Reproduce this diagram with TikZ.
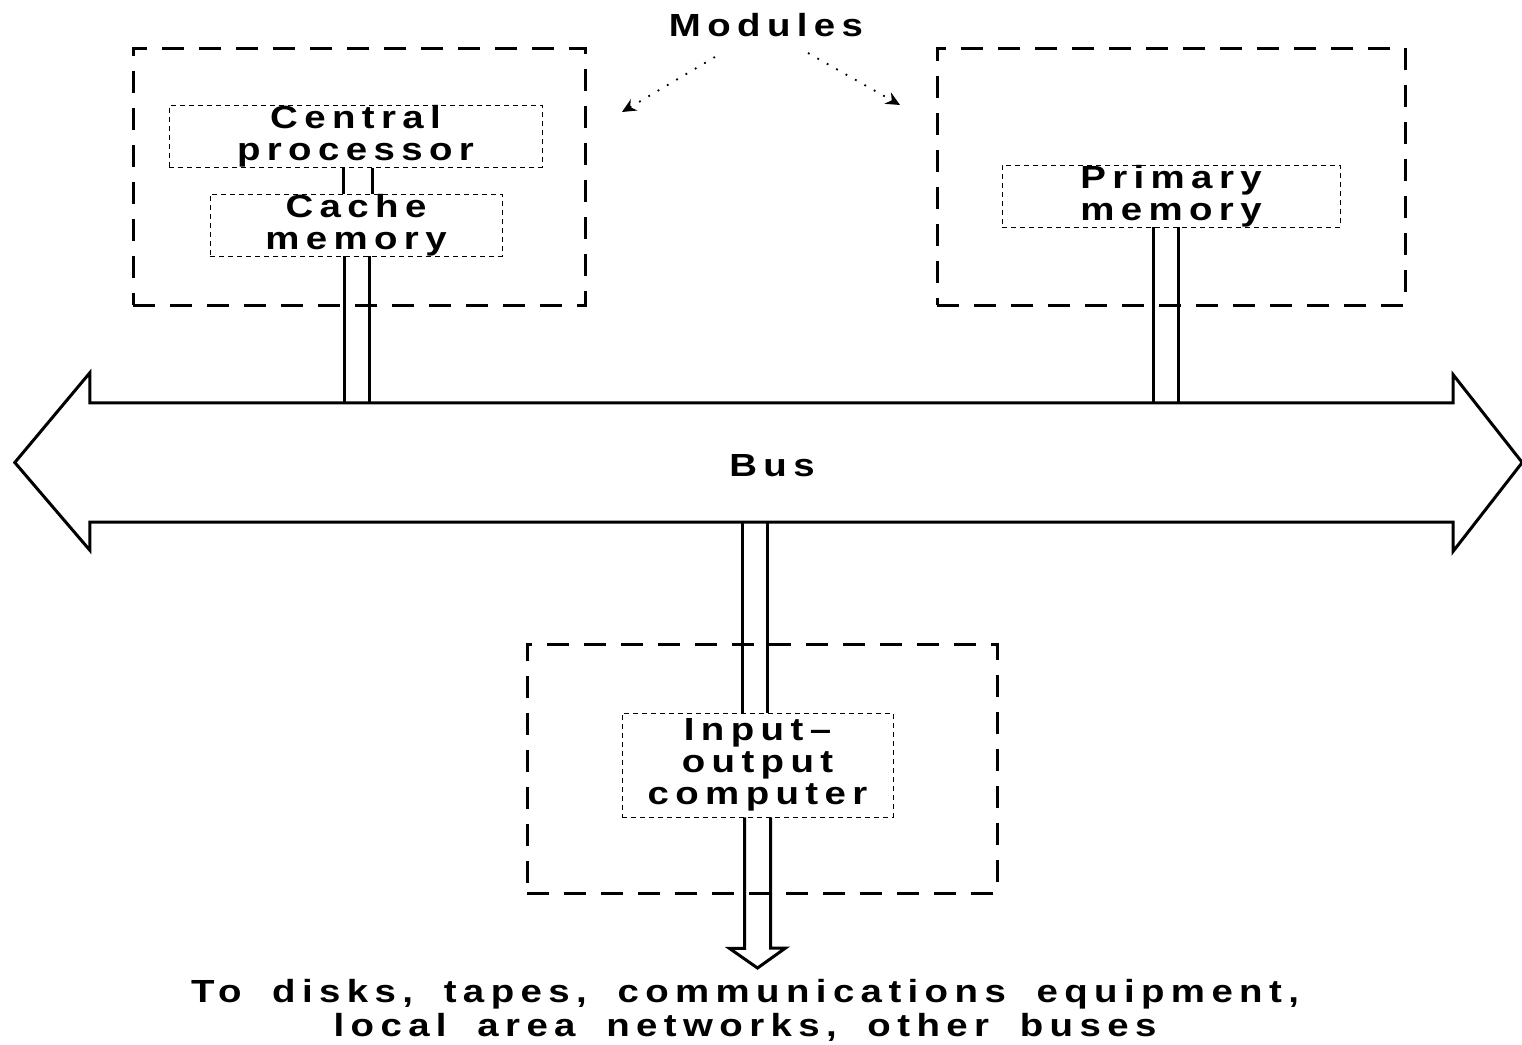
\documentclass[tikz,border=0pt]{standalone}
\usepackage{fontspec}
\setmainfont{Liberation Sans}
\newfontfamily\lbl[FakeStretch=1.2,LetterSpace=20,WordSpace=1.8]{Liberation Sans Bold}
\usetikzlibrary{arrows.meta}
\begin{document}
\begin{tikzpicture}[x=1pt,y=-1pt,
  module/.style={draw, line width=3pt, dash pattern=on 22pt off 15pt, rectangle, inner sep=0pt},
  unit/.style={draw, line width=0.8pt, dash pattern=on 5pt off 4pt, rectangle, inner sep=0pt,
    font=\lbl\fontsize{32}{32}\selectfont, align=center},
  txt/.style={font=\lbl\fontsize{32}{32}\selectfont, align=center, inner sep=0pt},
  link/.style={line width=3pt},
  busline/.style={line width=3pt, line join=miter},
  pointer/.style={line width=1.8pt, dash pattern=on 1.8pt off 9pt, -{Stealth[length=14pt,width=13pt]}}]
\useasboundingbox (0,0) rectangle (1522,1044);

% modules
\node[module, minimum width=452pt, minimum height=257pt] (cpumod) at (359,176.5) {};
\node[module, minimum width=468pt, minimum height=257pt] (pmmod) at (1171,176.5) {};
\node[module, minimum width=470pt, minimum height=249pt] (iomod) at (762,768.5) {};

% units
\node[unit, minimum width=373pt, minimum height=59pt] (cpu) at (355.5,136.5) {Central\\processor};
\node[unit, minimum width=292pt, minimum height=60pt] (cache) at (356,225) {Cache\\memory};
\node[unit, minimum width=338pt, minimum height=62pt] (pm) at (1171,196) {Primary\\memory};
\node[unit, minimum width=271pt, minimum height=104pt] (io) at (757.5,765) {Input–\\output\\computer};

% bus (shaft node + outline drawn from its anchors)
\node[inner sep=0pt, minimum width=1363pt, minimum height=119pt] (bus) at (771.5,462.5) {};
\node[txt] (buslabel) at (772,466) {Bus};
\draw[busline] (bus.north west) -- (bus.north east) -- ([yshift=28pt]bus.north east)
  -- ([xshift=69pt]bus.east) -- ([yshift=-29pt]bus.south east) -- (bus.south east)
  -- (bus.south west) -- ([yshift=-28pt]bus.south west) -- ([xshift=-75pt]bus.west)
  -- ([yshift=30pt]bus.north west) -- cycle;

% links
\draw[link] ([xshift=-12.5pt]cpu.south) -- ([xshift=-12.5pt]cpu.south |- cache.north);
\draw[link] ([xshift=16.5pt]cpu.south) -- ([xshift=16.5pt]cpu.south |- cache.north);
\draw[link] ([xshift=-12pt]cache.south) -- ([xshift=-12pt]cache.south |- bus.north);
\draw[link] ([xshift=13pt]cache.south) -- ([xshift=13pt]cache.south |- bus.north);
\draw[link] ([xshift=-18pt]pm.south) -- ([xshift=-18pt]pm.south |- bus.north);
\draw[link] ([xshift=7pt]pm.south) -- ([xshift=7pt]pm.south |- bus.north);
\draw[link] ([xshift=-15.5pt]io.north) -- ([xshift=-15.5pt]io.north |- bus.south);
\draw[link] ([xshift=9.5pt]io.north) -- ([xshift=9.5pt]io.north |- bus.south);

% output arrow
\coordinate (out) at (757.5,968);
\draw[busline] ([xshift=-13pt]io.south) -- ++(0,131) -- ++(-15,0) -- (out)
  -- ++(28,-20) -- ++(-15,0) -- ([xshift=13pt]io.south);

% modules label
\node[txt, anchor=base] (modules) at (766,36) {Modules};
\coordinate (m1) at (622,112);
\coordinate (m2) at (900,105);
\draw[pointer] ([shift={(-51,21)}]modules.base) -- (m1);
\draw[pointer] ([shift={(42,17)}]modules.base) -- (m2);

% bottom text
\node[txt, anchor=north, font=\lbl\fontsize{32}{34}\selectfont] (dest) at (745,979)
  {To disks, tapes, communications equipment,\\local area networks, other buses};
\end{tikzpicture}
\end{document}
